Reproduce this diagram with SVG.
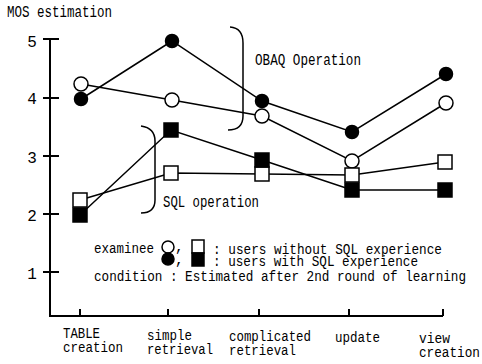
<svg xmlns="http://www.w3.org/2000/svg" width="482" height="364" viewBox="0 0 482 364">
<style>
text{font-family:"Liberation Mono","DejaVu Sans Mono",monospace;font-size:16px;fill:#000}
.s{font-size:14.5px}
.ax{stroke:#000;stroke-width:2;fill:none}
.ln{stroke:#000;stroke-width:1.5;fill:none}
.o{fill:#fff;stroke:#000;stroke-width:1.5}
.f{fill:#000;stroke:#000;stroke-width:1.5}
</style>
<rect width="482" height="364" fill="#fff"/>
<g id="axes">
<path class="ax" d="M50,39 V316 H443"/>
<path class="ax" d="M43,39 H59 M43,98 H59 M43,156 H59 M43,214 H59 M43,272 H59"/>
<path class="ax" d="M80,316 V309 M168,316 V309 M259,316 V309 M349,316 V309 M443,316 V309"/>
<text x="32" y="47" text-anchor="middle">5</text>
<text x="32" y="104" text-anchor="middle">4</text>
<text x="32" y="163" text-anchor="middle">3</text>
<text x="32" y="221" text-anchor="middle">2</text>
<text x="32" y="279" text-anchor="middle">1</text>
<text x="7" y="17" textLength="105" lengthAdjust="spacingAndGlyphs">MOS estimation</text>
<text class="s" x="63" y="338" textLength="37" lengthAdjust="spacingAndGlyphs">TABLE</text>
<text class="s" x="63" y="352" textLength="60" lengthAdjust="spacingAndGlyphs">creation</text>
<text class="s" x="147" y="340" textLength="45" lengthAdjust="spacingAndGlyphs">simple</text>
<text class="s" x="147" y="354" textLength="66" lengthAdjust="spacingAndGlyphs">retrieval</text>
<text class="s" x="229" y="341" textLength="82" lengthAdjust="spacingAndGlyphs">complicated</text>
<text class="s" x="229" y="355" textLength="67" lengthAdjust="spacingAndGlyphs">retrieval</text>
<text class="s" x="335" y="342" textLength="45" lengthAdjust="spacingAndGlyphs">update</text>
<text class="s" x="419" y="343" textLength="31" lengthAdjust="spacingAndGlyphs">view</text>
<text class="s" x="419" y="357" textLength="61" lengthAdjust="spacingAndGlyphs">creation</text>
</g>
<g id="connectors">
<polyline class="ln" points="81,84 172,100 262,116 352,161 446,103"/>
<polyline class="ln" points="81,99 172,41 262,101 352,132 446,74"/>
<polyline class="ln" points="80,200 171,173 262,174 352,175 445,162"/>
<polyline class="ln" points="80,215 171,130 262,160 352,190 445,190"/>
</g>
<g id="brackets">
<path class="ln" d="M230,27 Q243,28 243,43 V116 Q243,130 228,130"/>
<text x="255" y="65" textLength="106" lengthAdjust="spacingAndGlyphs">OBAQ Operation</text>
<path class="ln" d="M141,126 Q155,128 155,141 V200 Q155,213 141,213"/>
<text x="163" y="207" textLength="96" lengthAdjust="spacingAndGlyphs">SQL operation</text>
</g>
<g id="open-circles">
<circle class="o" cx="81" cy="84" r="7"/>
<circle class="o" cx="172" cy="100" r="7"/>
<circle class="o" cx="262" cy="116" r="7"/>
<circle class="o" cx="352" cy="161" r="7"/>
<circle class="o" cx="446" cy="103" r="7"/>
</g>
<g id="filled-circles">
<circle class="f" cx="81" cy="99" r="6.5"/>
<circle class="f" cx="172" cy="41" r="6.5"/>
<circle class="f" cx="262" cy="101" r="6.5"/>
<circle class="f" cx="352" cy="132" r="6.5"/>
<circle class="f" cx="446" cy="74" r="6.5"/>
</g>
<g id="open-squares">
<rect class="o" x="73" y="193" width="14" height="14"/>
<rect class="o" x="164" y="166" width="14" height="14"/>
<rect class="o" x="255" y="167" width="14" height="14"/>
<rect class="o" x="345" y="168" width="14" height="14"/>
<rect class="o" x="438" y="155" width="14" height="14"/>
</g>
<g id="filled-squares">
<rect class="f" x="73" y="208" width="14" height="14"/>
<rect class="f" x="164" y="123" width="14" height="14"/>
<rect class="f" x="255" y="153" width="14" height="14"/>
<rect class="f" x="345" y="183" width="14" height="14"/>
<rect class="f" x="438" y="183" width="14" height="14"/>
</g>
<g id="legend">
<text class="s" x="94" y="253" textLength="60" lengthAdjust="spacingAndGlyphs">examinee</text>
<circle class="o" cx="168" cy="247" r="6"/>
<circle class="f" cx="168" cy="259" r="6"/>
<text class="s" x="175" y="251">,</text>
<text class="s" x="175" y="264">,</text>
<rect class="o" x="192" y="240" width="12" height="13"/>
<rect class="f" x="192" y="253" width="12" height="13"/>
<text class="s" x="213" y="254" textLength="229" lengthAdjust="spacingAndGlyphs">: users without SQL experience</text>
<text class="s" x="213" y="266" textLength="205" lengthAdjust="spacingAndGlyphs">: users with SQL experience</text>
<text class="s" x="94" y="281" textLength="372" lengthAdjust="spacingAndGlyphs">condition : Estimated after 2nd round of learning</text>
</g>
</svg>
